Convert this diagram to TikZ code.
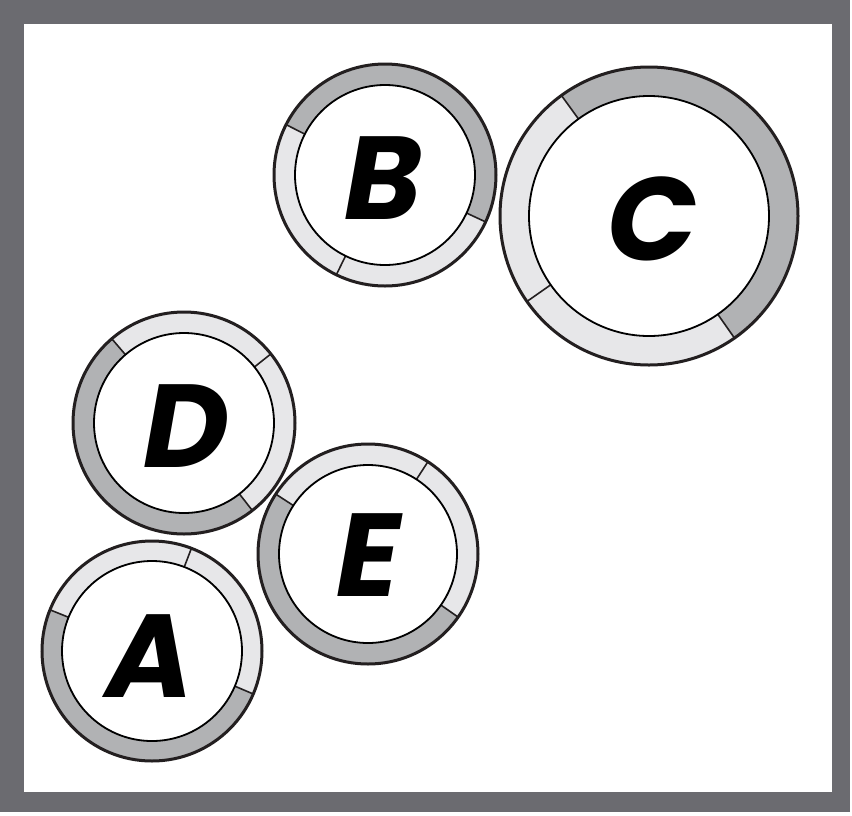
\documentclass[tikz,border=0pt]{standalone}
\usepackage{fontspec}
\newfontfamily\brushfont{Poppins}
\usetikzlibrary{calc}
\definecolor{framegray}{HTML}{6B6B70}
\definecolor{ringlight}{HTML}{E7E7E9}
\definecolor{ringdark}{HTML}{B1B2B4}
\definecolor{edgeblack}{HTML}{231F20}
\tikzset{
  innerdisc/.style={circle, fill=white, draw=black, line width=1.8pt, inner sep=0pt,
    font=\brushfont\bfseries\itshape\fontsize{118}{118}\selectfont},
  outeredge/.style={draw=edgeblack, line width=3pt},
  divline/.style={draw=edgeblack, line width=1.6pt},
}
% #1 name, #2 R, #3 r, #4 dark start, #5 dark end, #6 dividers
\newcommand{\ringdraw}[6]{%
  \fill[ringlight] (#1) circle[radius=#2];
  \fill[ringdark] ($(#1)+(#4:#2)$) arc[start angle=#4, end angle=#5, radius=#2]
      -- ($(#1)+(#5:#3)$) arc[start angle=#5, end angle=#4, radius=#3] -- cycle;
  \foreach \a in {#6} {\draw[divline] ($(#1)+(\a:#3)$) -- ($(#1)+(\a:#2)$);}
  \draw[outeredge] (#1) circle[radius=#2];
}
\begin{document}
\begin{tikzpicture}[x=1pt,y=1pt]
\useasboundingbox (0,0) rectangle (852,-815);
% frame
\fill[framegray] (0,0) rectangle (850,-812);
\fill[white] (24,-24) rectangle (832,-792);

% centres
\coordinate (cA) at (152,-651);
\coordinate (cB) at (385,-175);
\coordinate (cC) at (649,-216);
\coordinate (cD) at (184,-423);
\coordinate (cE) at (368,-554);

\ringdraw{cB}{111pt}{90pt}{-25}{153}{153,-25,244}
\node[innerdisc, minimum size=180pt] (B) at (cB) {};
\node[font=\brushfont\bfseries\itshape\fontsize{118}{118}\selectfont] (LB) at (383,-178) {B};

\ringdraw{cC}{149pt}{120pt}{-55}{126}{126,215,-55}
\node[innerdisc, minimum size=240pt] (C) at (cC) {};
\node[font=\brushfont\bfseries\itshape\fontsize{118}{118}\selectfont] (LC) at (652,-219) {C};

\ringdraw{cD}{111pt}{90pt}{130.6}{308}{130.6,38.5,308}
\node[innerdisc, minimum size=180pt] (D) at (cD) {};
\node[font=\brushfont\bfseries\itshape\fontsize{118}{118}\selectfont] (LD) at (186,-426) {D};

\ringdraw{cE}{110pt}{89pt}{147}{325}{57,147,325}
\node[innerdisc, minimum size=178pt] (E) at (cE) {};
\node[font=\brushfont\bfseries\itshape\fontsize{118}{118}\selectfont] (LE) at (368,-555) {E};

\ringdraw{cA}{110pt}{90pt}{158}{337}{69,158,337}
\node[innerdisc, minimum size=180pt] (A) at (cA) {};
\node[font=\brushfont\bfseries\itshape\fontsize{118}{118}\selectfont] (LA) at (150,-656) {A};
\end{tikzpicture}
\end{document}
